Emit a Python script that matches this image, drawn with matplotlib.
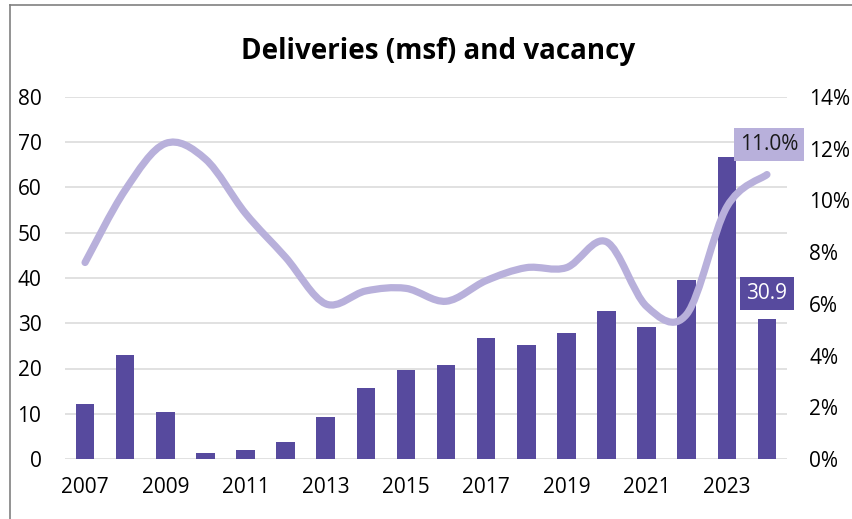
import matplotlib
matplotlib.use("Agg")
import matplotlib.pyplot as plt
from matplotlib.path import Path
from matplotlib.patches import PathPatch
from matplotlib.lines import Line2D
import numpy as np

plt.rcParams['font.family'] = ['Open Sans', 'DejaVu Sans']

# data
years = list(range(2007, 2025))
deliveries = [12.2, 23.0, 10.3, 1.3, 2.0, 3.8, 9.2, 15.8, 19.6, 20.8,
              26.7, 25.2, 27.8, 32.6, 29.2, 39.6, 66.7, 30.9]
vacancy = [7.6, 10.4, 12.2, 11.6, 9.5, 7.8, 6.0, 6.5, 6.6, 6.1,
           6.9, 7.4, 7.4, 8.4, 5.9, 5.6, 9.75, 11.0]
left_ticks = [0, 10, 20, 30, 40, 50, 60, 70, 80]
right_ticks = [0, 2, 4, 6, 8, 10, 12, 14]

bar_col = '#574a9e'
line_col = '#b8b0db'
grid_col = '#d9d9d9'

fig = plt.figure(figsize=(8.53, 5.19), dpi=100)
ax = fig.add_axes([65 / 853, 60 / 519, 722 / 853, 362 / 519])
x = np.arange(len(years))

ax.set_axisbelow(True)
ax.yaxis.grid(True, color=grid_col, linewidth=1.1)
ax.bar(x, deliveries, width=0.46, color=bar_col, zorder=2)
ax.set_xlim(-0.5, len(years) - 0.5)
ax.set_ylim(0, 80)
ax.set_yticks(left_ticks)
ax.set_xticks(x[::2])
ax.set_xticklabels([str(y) for y in years[::2]])
for s in ax.spines.values():
    s.set_visible(False)
ax.tick_params(axis='both', length=0, labelsize=15, colors='black')
ax.tick_params(axis='y', pad=17)
ax.tick_params(axis='x', pad=13)

ax2 = ax.twinx()
ax2.set_ylim(0, 14)
ax2.set_yticks(right_ticks)
ax2.set_yticklabels([f'{t}%' for t in right_ticks])
for s in ax2.spines.values():
    s.set_visible(False)
ax2.tick_params(axis='y', length=0, labelsize=15, pad=16)

# smoothed line, Excel style bezier through the points
pts = np.column_stack([x, vacancy]).astype(float)
ext = np.vstack([pts[0], pts, pts[-1]])
verts = [tuple(pts[0])]
codes = [Path.MOVETO]
for i in range(len(pts) - 1):
    p0, p1, p2, p3 = ext[i], ext[i + 1], ext[i + 2], ext[i + 3]
    c1 = p1 + (p2 - p0) / 6
    c2 = p2 - (p3 - p1) / 6
    verts += [tuple(c1), tuple(c2), tuple(p2)]
    codes += [Path.CURVE4] * 3
ax2.add_patch(PathPatch(Path(verts, codes), fill=False, edgecolor=line_col,
                        linewidth=5.2, capstyle='round', joinstyle='round', zorder=3))

ax2.annotate(f'{vacancy[-1]:.1f}%', (x[-1], vacancy[-1]), xytext=(1.5, 21.5),
             textcoords='offset points', ha='center', va='center', fontsize=15,
             color='#1a1a1a', zorder=5,
             bbox=dict(boxstyle='square,pad=0.3', fc=line_col, ec='none'))
ax2.annotate(f'{deliveries[-1]:.1f}', (x[-1], deliveries[-1] * 14 / 80), xytext=(0, 18.5),
             textcoords='offset points', ha='center', va='center', fontsize=15,
             color='white', zorder=5,
             bbox=dict(boxstyle='square,pad=0.3', fc=bar_col, ec='none'))

fig.text(438 / 853, 1 - 51 / 519, 'Deliveries (msf) and vacancy', ha='center',
         va='center', fontsize=20, fontweight='bold')

# outer frame
fig.add_artist(Line2D([10 / 853, 1], [1 - 5 / 519, 1 - 5 / 519], color='#808080', lw=1.2))
fig.add_artist(Line2D([10 / 853, 10 / 853], [0, 1 - 5 / 519], color='#808080', lw=1.2))

fig.savefig('out.png', dpi=100)
